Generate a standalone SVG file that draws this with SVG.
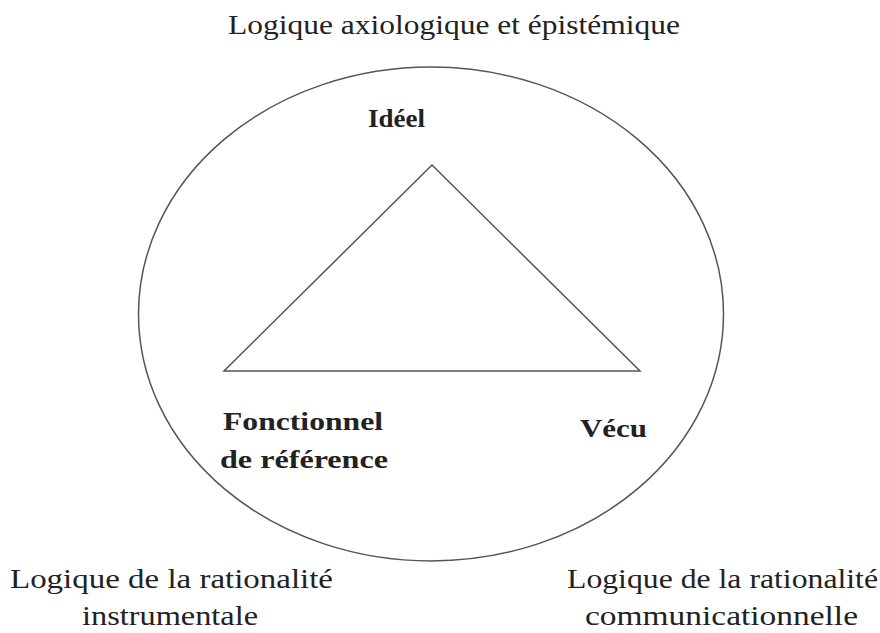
<svg xmlns="http://www.w3.org/2000/svg" width="880" height="633" viewBox="0 0 880 633">
<style>
.t{font-family:"Liberation Serif","Times New Roman",serif;font-size:28px;fill:#222}
.b{font-family:"Liberation Serif","Times New Roman",serif;font-size:26px;font-weight:bold;fill:#222}
.s{fill:none;stroke:#555;stroke-width:1.5}
</style>
<rect width="880" height="633" fill="#fff"/>
<g id="ellipse"><ellipse class="s" cx="431" cy="314" rx="292.5" ry="247"/></g>
<g id="triangle"><polygon class="s" points="432,165 224,371 640,371"/></g>
<g id="title"><text class="t" x="228" y="34" textLength="452" lengthAdjust="spacingAndGlyphs">Logique axiologique et épistémique</text></g>
<g id="ideel"><text class="b" x="368" y="127" textLength="57" lengthAdjust="spacingAndGlyphs">Idéel</text></g>
<g id="fonctionnel">
<text class="b" x="223" y="430" textLength="160" lengthAdjust="spacingAndGlyphs">Fonctionnel</text>
<text class="b" x="220" y="468" textLength="168" lengthAdjust="spacingAndGlyphs">de référence</text>
</g>
<g id="vecu"><text class="b" x="580" y="437" textLength="67" lengthAdjust="spacingAndGlyphs">Vécu</text></g>
<g id="instrumentale">
<text class="t" x="10" y="588" textLength="323" lengthAdjust="spacingAndGlyphs">Logique de la rationalité</text>
<text class="t" x="82" y="625" textLength="176" lengthAdjust="spacingAndGlyphs">instrumentale</text>
</g>
<g id="communicationnelle">
<text class="t" x="567" y="588" textLength="311" lengthAdjust="spacingAndGlyphs">Logique de la rationalité</text>
<text class="t" x="585" y="625" textLength="273" lengthAdjust="spacingAndGlyphs">communicationnelle</text>
</g>
<g id="connectors"></g>
</svg>
